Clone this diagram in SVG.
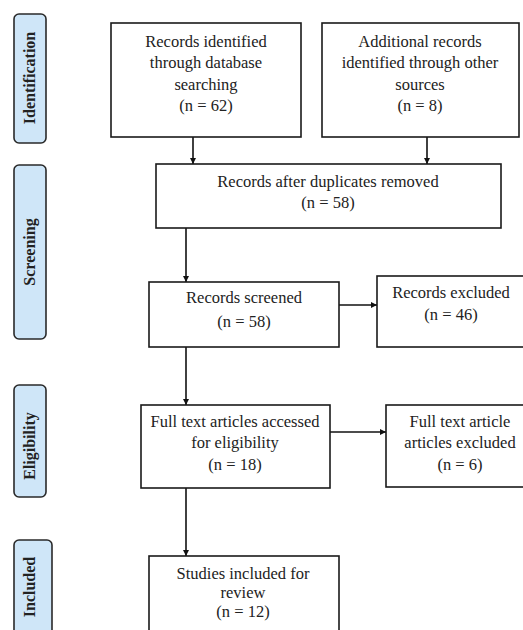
<svg xmlns="http://www.w3.org/2000/svg" width="523" height="630" viewBox="0 0 523 630">
<style>
.box{fill:#fff;stroke:#1a1a1a;stroke-width:1.6}
.tab{fill:#cfe6f8;stroke:#2a2a2a;stroke-width:1.6}
.t{font-family:"Liberation Serif",serif;font-size:16.5px;fill:#222;text-anchor:middle}
.lab{font-family:"Liberation Serif",serif;font-size:16px;font-weight:bold;fill:#222;text-anchor:middle}
.c{stroke:#111;stroke-width:1.6;fill:none;marker-end:url(#ah)}
</style>
<defs>
<marker id="ah" viewBox="0 0 10 10" refX="10" refY="5" markerWidth="6" markerHeight="6" markerUnits="userSpaceOnUse" orient="auto">
<path d="M0,0 L10,5 L0,10 z" fill="#111"/>
</marker>
</defs>
<rect width="523" height="630" fill="#fff"/>
<g id="tab-identification"><rect class="tab" x="14" y="14" width="32" height="129" rx="5"/><text class="lab" transform="translate(35,78) rotate(-90)">Identification</text></g>
<g id="tab-screening"><rect class="tab" x="14" y="165" width="32" height="174" rx="5"/><text class="lab" transform="translate(35,252) rotate(-90)">Screening</text></g>
<g id="tab-eligibility"><rect class="tab" x="14" y="385" width="32" height="112" rx="5"/><text class="lab" transform="translate(35,446) rotate(-90)">Eligibility</text></g>
<g id="tab-included"><rect class="tab" x="14" y="540" width="38" height="110" rx="5"/><text class="lab" transform="translate(35,587) rotate(-90)">Included</text></g>
<g id="connectors">
<path class="c" d="M193,137 V164"/>
<path class="c" d="M427,137 V164"/>
<path class="c" d="M186,228 V282"/>
<path class="c" d="M339,305 H377"/>
<path class="c" d="M186,347 V405"/>
<path class="c" d="M330,432 H386"/>
<path class="c" d="M186,488 V556"/>
</g>
<g id="n1"><rect class="box" x="111" y="23" width="190" height="114"/>
<text class="t" x="206" y="47">Records identified</text><text class="t" x="206" y="68">through database</text><text class="t" x="206" y="90">searching</text><text class="t" x="206" y="111">(n = 62)</text></g>
<g id="n2"><rect class="box" x="322" y="23" width="197" height="114"/>
<text class="t" x="420" y="47">Additional records</text><text class="t" x="420" y="68">identified through other</text><text class="t" x="420" y="90">sources</text><text class="t" x="420" y="111">(n = 8)</text></g>
<g id="n3"><rect class="box" x="156" y="164" width="345" height="64"/>
<text class="t" x="328" y="187">Records after duplicates removed</text><text class="t" x="328" y="208">(n = 58)</text></g>
<g id="n4"><rect class="box" x="149" y="282" width="190" height="65"/>
<text class="t" x="244" y="303">Records screened</text><text class="t" x="244" y="327">(n = 58)</text></g>
<g id="n5"><rect class="box" x="377" y="276" width="160" height="71"/>
<text class="t" x="451" y="298">Records excluded</text><text class="t" x="451" y="320">(n = 46)</text></g>
<g id="n6"><rect class="box" x="141" y="405" width="189" height="83"/>
<text class="t" x="235" y="427">Full text articles accessed</text><text class="t" x="235" y="448">for eligibility</text><text class="t" x="235" y="470">(n = 18)</text></g>
<g id="n7"><rect class="box" x="386" y="405" width="150" height="82"/>
<text class="t" x="460" y="427">Full text article</text><text class="t" x="460" y="448">articles excluded</text><text class="t" x="460" y="470">(n = 6)</text></g>
<g id="n8"><rect class="box" x="149" y="556" width="190" height="90"/>
<text class="t" x="243" y="579">Studies included for</text><text class="t" x="243" y="598">review</text><text class="t" x="243" y="617">(n = 12)</text></g>
</svg>
